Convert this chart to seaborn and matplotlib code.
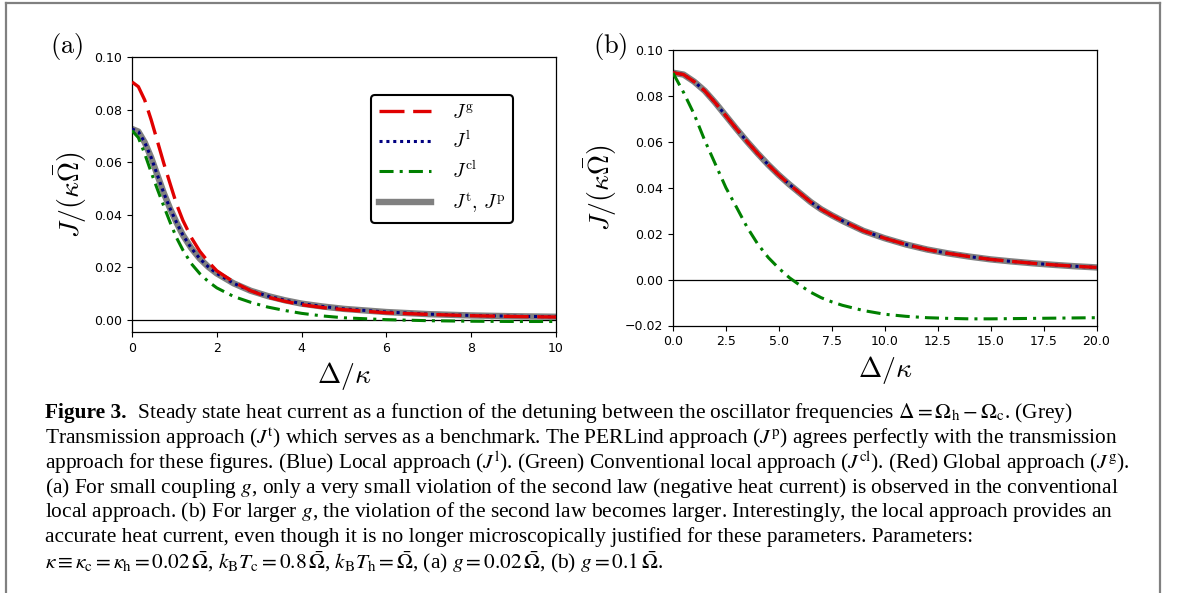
import matplotlib
matplotlib.use("Agg")
import matplotlib.pyplot as plt
import seaborn as sns
from matplotlib.lines import Line2D

# ---------------- data ----------------
# panel (a): g = 0.02
a_delta = [0, 0.15, 0.3, 0.45, 0.6, 0.75, 0.9, 1.05, 1.2, 1.4, 1.6, 1.8, 2.0,
           2.4, 2.8, 3.2, 3.6, 4.0, 4.5, 5, 6, 7, 8, 9, 10]
a_Jg = [0.0905, 0.0887, 0.0836, 0.0762, 0.0679, 0.0595, 0.0517, 0.0440, 0.0378,
        0.0312, 0.0260, 0.0220, 0.0186, 0.0143, 0.0110, 0.0086, 0.0070, 0.0057,
        0.0046, 0.0038, 0.0026, 0.0020, 0.0015, 0.0012, 0.0010]
a_Jt = [0.0726, 0.0716, 0.0675, 0.0618, 0.0550, 0.0482, 0.0422, 0.0370, 0.0322,
        0.0272, 0.0232, 0.0201, 0.0176, 0.0138, 0.0110, 0.0090, 0.0074, 0.0061,
        0.0050, 0.0041, 0.0029, 0.0021, 0.0016, 0.0013, 0.0011]
a_Jl = [0.0726, 0.0716, 0.0675, 0.0618, 0.0550, 0.0482, 0.0422, 0.0370, 0.0322,
        0.0272, 0.0232, 0.0201, 0.0176, 0.0138, 0.0110, 0.0090, 0.0074, 0.0061,
        0.0050, 0.0041, 0.0029, 0.0021, 0.0016, 0.0013, 0.0011]
a_Jcl = [0.0720, 0.0693, 0.0632, 0.0562, 0.0496, 0.0432, 0.0370, 0.0312, 0.0265,
         0.0213, 0.0175, 0.0145, 0.0121, 0.0088, 0.0066, 0.0048, 0.0035, 0.0024,
         0.0014, 0.0007, 0.0000, -0.0004, -0.0006, -0.0007, -0.0007]

# panel (b): g = 0.1
b_delta = [0, 0.5, 1, 1.5, 2, 2.5, 3, 3.5, 4, 4.5, 5, 5.5, 6, 6.5, 7, 7.5, 8,
           9, 10, 11, 12, 13, 14, 15, 16, 17, 18, 19, 20]
b_Jt = [0.0901, 0.0893, 0.0862, 0.0822, 0.0770, 0.0713, 0.0656, 0.0601, 0.0549,
        0.0500, 0.0455, 0.0414, 0.0376, 0.0338, 0.0306, 0.0280, 0.0256,
        0.0212, 0.0180, 0.0153, 0.0131, 0.0114, 0.0100, 0.0088, 0.0079, 0.0071,
        0.0064, 0.0058, 0.0053]
b_Jl = [0.0901, 0.0893, 0.0862, 0.0822, 0.0770, 0.0713, 0.0656, 0.0601, 0.0549,
        0.0500, 0.0455, 0.0414, 0.0376, 0.0338, 0.0306, 0.0280, 0.0256,
        0.0212, 0.0180, 0.0153, 0.0131, 0.0114, 0.0100, 0.0088, 0.0079, 0.0071,
        0.0064, 0.0058, 0.0053]
b_Jg = [0.0901, 0.0893, 0.0862, 0.0822, 0.0770, 0.0713, 0.0656, 0.0601, 0.0549,
        0.0500, 0.0455, 0.0414, 0.0376, 0.0338, 0.0306, 0.0280, 0.0256,
        0.0212, 0.0180, 0.0153, 0.0131, 0.0114, 0.0100, 0.0088, 0.0079, 0.0071,
        0.0064, 0.0058, 0.0053]
b_Jcl = [0.0900, 0.0815, 0.0720, 0.0606, 0.0503, 0.0400, 0.0315, 0.0228, 0.0155,
         0.0096, 0.0049, 0.0008, -0.0025, -0.0055, -0.0079, -0.0097, -0.0112,
         -0.0135, -0.0151, -0.0160, -0.0166, -0.0169, -0.0171, -0.0171, -0.0170,
         -0.0169, -0.0168, -0.0167, -0.0166]

legend_labels = [r"$J^{\mathrm{g}}$", r"$J^{\mathrm{l}}$", r"$J^{\mathrm{cl}}$",
                 r"$J^{\mathrm{t}},\,J^{\mathrm{p}}$"]

caption_bold = "Figure 3."
caption_lines = [
    r"  Steady state heat current as a function of the detuning between the oscillator frequencies $\Delta = \Omega_{\mathrm{h}} - \Omega_{\mathrm{c}}$. (Grey)",
    r"Transmission approach ($J^{\mathrm{t}}$) which serves as a benchmark. The PERLind approach ($J^{\mathrm{p}}$) agrees perfectly with the transmission",
    r"approach for these figures. (Blue) Local approach ($J^{\mathrm{l}}$). (Green) Conventional local approach ($J^{\mathrm{cl}}$). (Red) Global approach ($J^{\mathrm{g}}$).",
    r"(a) For small coupling $g$, only a very small violation of the second law (negative heat current) is observed in the conventional",
    r"local approach. (b) For larger $g$, the violation of the second law becomes larger. Interestingly, the local approach provides an",
    r"accurate heat current, even though it is no longer microscopically justified for these parameters. Parameters:",
    r"$\kappa \equiv \kappa_{\mathrm{c}} = \kappa_{\mathrm{h}} = 0.02\,\bar{\Omega}$, $k_{\mathrm{B}}T_{\mathrm{c}} = 0.8\,\bar{\Omega}$, $k_{\mathrm{B}}T_{\mathrm{h}} = \bar{\Omega}$, (a) $g = 0.02\,\bar{\Omega}$, (b) $g = 0.1\,\bar{\Omega}$.",
]

# ---------------- styling ----------------
W, H = 1179, 593
plt.rcParams["mathtext.fontset"] = "cm"
plt.rcParams["font.family"] = ["DejaVu Sans"]

fig = plt.figure(figsize=(W / 100, H / 100), dpi=100)
fig.patch.set_facecolor("white")

def px_axes(l, r, t, b):
    return fig.add_axes([l / W, 1 - b / H, (r - l) / W, (b - t) / H])

axA = px_axes(132, 556, 57, 332)
axB = px_axes(673, 1096.5, 50, 325.5)

grey_kw = dict(color="#808080", lw=4.6, zorder=2)
blue_kw = dict(color="#000080", lw=2.2, linestyle=(0, (1, 1.25)), zorder=3)
red_kw = dict(color="#e00000", lw=2.4, linestyle=(0, (7.5, 2.6)), zorder=4)
green_kw = dict(color="#008000", lw=2.2, linestyle=(0, (4.6, 2.0, 1.0, 2.0)), zorder=5)

def draw(ax, x, y, kw, label=None):
    sns.lineplot(x=x, y=y, ax=ax, estimator=None, sort=False, legend=False, **kw)
    line = ax.lines[-1]
    if label:
        line.set_label(label)
    return line

hA_t = draw(axA, a_delta, a_Jt, grey_kw)
hA_l = draw(axA, a_delta, a_Jl, blue_kw)
hA_g = draw(axA, a_delta, a_Jg, red_kw)
hA_cl = draw(axA, a_delta, a_Jcl, green_kw)

draw(axB, b_delta, b_Jt, grey_kw)
draw(axB, b_delta, b_Jl, blue_kw)
draw(axB, b_delta, b_Jg, red_kw)
draw(axB, b_delta, b_Jcl, green_kw)

for ax in (axA, axB):
    ax.axhline(0, color="black", lw=0.9, zorder=1)
    ax.set_ylabel(r"$J/(\kappa\bar{\Omega})$", fontsize=20)
    ax.set_xlabel(r"$\Delta/\kappa$", fontsize=20)
    ax.tick_params(labelsize=9)
    for s in ax.spines.values():
        s.set_linewidth(0.9)

axA.set_xlim(0, 10)
axA.set_ylim(-0.0047, 0.10)
axA.set_xticks([0, 2, 4, 6, 8, 10])
axA.set_yticks([0.0, 0.02, 0.04, 0.06, 0.08, 0.10])
axB.set_xlim(0, 20)
axB.set_ylim(-0.02, 0.10)
axB.set_xticks([0, 2.5, 5, 7.5, 10, 12.5, 15, 17.5, 20])
axB.set_yticks([-0.02, 0.0, 0.02, 0.04, 0.06, 0.08, 0.10])

leg = axA.legend([hA_g, hA_l, hA_cl, hA_t], legend_labels, loc="upper right",
                 bbox_to_anchor=(0.899, 0.862), borderaxespad=0, fontsize=14,
                 handlelength=2.7, handletextpad=1.05, labelspacing=0.45,
                 borderpad=0.4, fancybox=True, framealpha=1, edgecolor="black")
leg.get_frame().set_linewidth(1.5)

fig.text(50 / W, 1 - 47 / H, r"$\mathrm{(a)}$", fontsize=19, va="center", ha="left")
fig.text(593 / W, 1 - 47 / H, r"$\mathrm{(b)}$", fontsize=19, va="center", ha="left")

# page frame
fc = "#808080"
fig.add_artist(Line2D([6 / W, 1160 / W], [1 - 3 / H, 1 - 3 / H], color=fc, lw=1.6, transform=fig.transFigure))
fig.add_artist(Line2D([6 / W, 6 / W], [1 - 3 / H, 0], color=fc, lw=1.6, transform=fig.transFigure))
fig.add_artist(Line2D([1160 / W, 1160 / W], [1 - 3 / H, 0], color=fc, lw=1.6, transform=fig.transFigure))

# caption
renderer = fig.canvas.get_renderer()
cap_font = dict(family=["Liberation Serif", "DejaVu Serif"], math_fontfamily="stix")
size = 14.0
tb = fig.text(45 / W, 0.5, caption_bold, fontsize=size, fontweight="bold", **cap_font)
tr = fig.text(0.2, 0.5, caption_lines[0], fontsize=size, **cap_font)
w_total = tb.get_window_extent(renderer).width + tr.get_window_extent(renderer).width
size = size * 1033.0 / w_total
tb.remove(); tr.remove()

ys = [413, 438.5, 463, 488, 512.5, 537, 562]
tb = fig.text(45 / W, 1 - ys[0] / H, caption_bold, fontsize=size, fontweight="bold",
              va="center", **cap_font)
wb = tb.get_window_extent(renderer).width
fig.text((45 + wb) / W, 1 - ys[0] / H, caption_lines[0], fontsize=size, va="center", **cap_font)
for y, line in zip(ys[1:], caption_lines[1:]):
    fig.text(45 / W, 1 - y / H, line, fontsize=size, va="center", **cap_font)

fig.savefig("out.png", dpi=100)
